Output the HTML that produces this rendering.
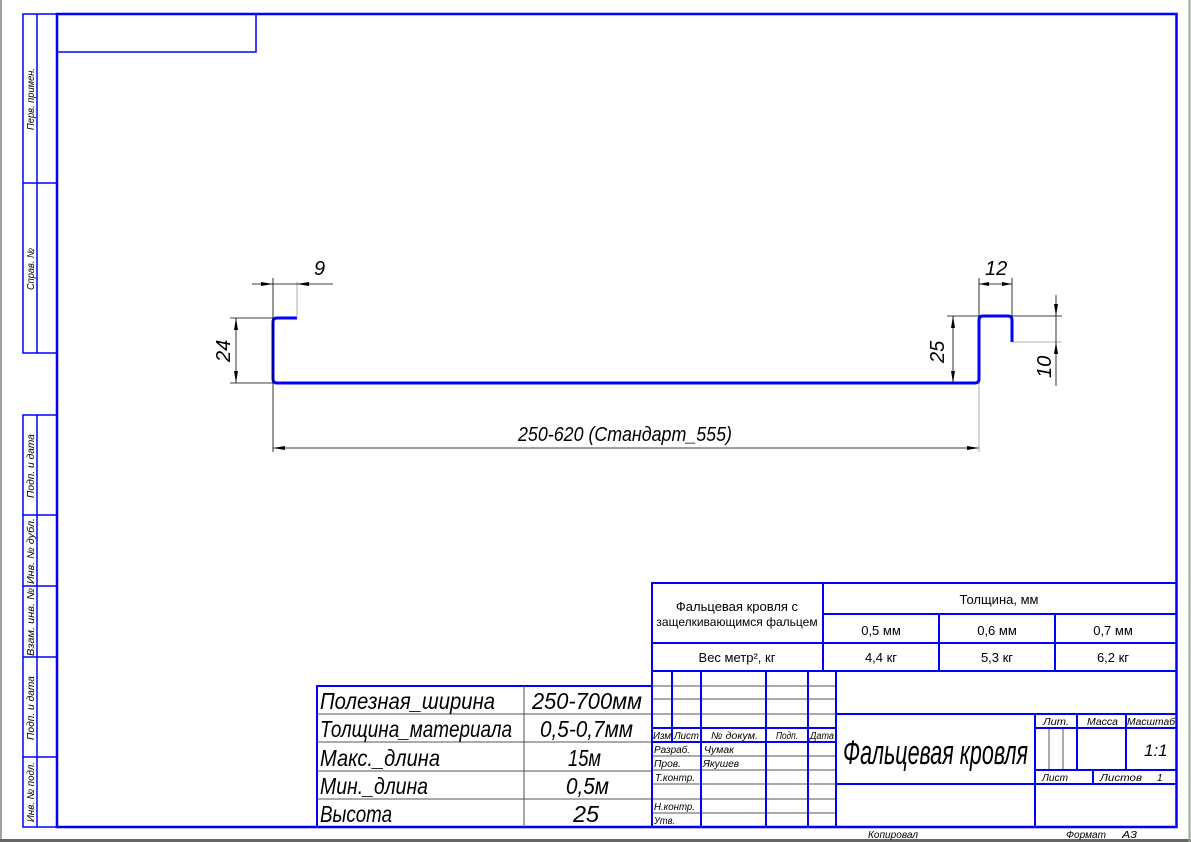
<!DOCTYPE html>
<html><head><meta charset="utf-8"><style>
html,body{margin:0;padding:0;background:#fff;}
svg{display:block;}
text{font-family:"Liberation Sans","DejaVu Sans",sans-serif;}
.it{font-style:italic;font-family:"Liberation Sans Narrow","Liberation Sans",sans-serif;}
</style></head><body>
<svg width="1191" height="842" viewBox="0 0 1191 842" xmlns="http://www.w3.org/2000/svg">
<rect x="0" y="0" width="1191" height="842" fill="#fff"/>
<line x1="1" y1="0" x2="1" y2="842" stroke="#9aa89a" stroke-width="2"/>
<line x1="0" y1="840.5" x2="1191" y2="840.5" stroke="#666" stroke-width="3"/>
<line x1="1189.5" y1="0" x2="1189.5" y2="842" stroke="#9aa89a" stroke-width="2"/>

<g stroke="#0000ff" fill="none">
<rect x="57" y="14" width="1119.5" height="813" stroke-width="2.5"/>
<rect x="57" y="14" width="199" height="38" stroke-width="1.5"/>
<rect x="23" y="14" width="34" height="339" stroke-width="1.5"/>
<line x1="37" y1="14" x2="37" y2="353" stroke-width="1.5"/>
<line x1="23" y1="183" x2="57" y2="183" stroke-width="1.5"/>
<rect x="23" y="415" width="34" height="412" stroke-width="1.5"/>
<line x1="37" y1="415" x2="37" y2="827" stroke-width="1.5"/>
<line x1="23" y1="515" x2="57" y2="515" stroke-width="1.5"/>
<line x1="23" y1="586" x2="57" y2="586" stroke-width="1.5"/>
<line x1="23" y1="657" x2="57" y2="657" stroke-width="1.5"/>
<line x1="23" y1="757" x2="57" y2="757" stroke-width="1.5"/>
<rect x="317" y="686" width="335" height="141" stroke-width="2"/>
</g>
<g stroke="#555" stroke-width="1">
<line x1="524" y1="686" x2="524" y2="827"/>
<line x1="317" y1="714" x2="652" y2="714"/>
<line x1="317" y1="742" x2="652" y2="742"/>
<line x1="317" y1="771" x2="652" y2="771"/>
<line x1="317" y1="799" x2="652" y2="799"/>
<line x1="652" y1="686" x2="836" y2="686"/>
<line x1="652" y1="699" x2="836" y2="699"/>
<line x1="652" y1="714" x2="836" y2="714"/>
<line x1="652" y1="756" x2="836" y2="756"/>
<line x1="652" y1="770" x2="836" y2="770"/>
<line x1="652" y1="784" x2="836" y2="784"/>
<line x1="652" y1="799" x2="836" y2="799"/>
<line x1="652" y1="813" x2="836" y2="813"/>
<line x1="1049" y1="728" x2="1049" y2="770"/>
<line x1="1063" y1="728" x2="1063" y2="770"/>
</g>
<g stroke="#0000ff" stroke-width="2" fill="none">
<rect x="652" y="583" width="524.5" height="244"/>
<line x1="823" y1="583" x2="823" y2="671"/>
<line x1="823" y1="614" x2="1176" y2="614"/>
<line x1="939" y1="614" x2="939" y2="671"/>
<line x1="1055" y1="614" x2="1055" y2="671"/>
<line x1="652" y1="643" x2="1176" y2="643"/>
<line x1="652" y1="671" x2="1176" y2="671"/>
<line x1="672" y1="671" x2="672" y2="742"/>
<line x1="701" y1="671" x2="701" y2="827"/>
<line x1="766" y1="671" x2="766" y2="827"/>
<line x1="808" y1="671" x2="808" y2="827"/>
<line x1="836" y1="671" x2="836" y2="827"/>
<line x1="652" y1="728" x2="836" y2="728"/>
<line x1="652" y1="742" x2="836" y2="742"/>
<line x1="836" y1="714" x2="1176" y2="714"/>
<line x1="836" y1="784" x2="1176" y2="784"/>
<line x1="1035" y1="714" x2="1035" y2="827"/>
<line x1="1035" y1="728" x2="1176" y2="728"/>
<line x1="1035" y1="770" x2="1176" y2="770"/>
<line x1="1077" y1="714" x2="1077" y2="770"/>
<line x1="1126" y1="714" x2="1126" y2="770"/>
<line x1="1093" y1="770" x2="1093" y2="784"/>
</g>

<path d="M297 318 H277 Q273 318 273 322 V379 Q273 383 277 383 H975 Q979 383 979 379 V320 Q979 316 983 316 H1008 Q1012 316 1012 320 V342" stroke="#0000ff" stroke-width="3" fill="none"/>

<g stroke="#000" stroke-width="0.8" fill="none">
<line x1="273" y1="278" x2="273" y2="452"/>
<line x1="297" y1="282" x2="297" y2="318" stroke="#999"/>
<line x1="252" y1="284" x2="333" y2="284"/>
<line x1="230" y1="318" x2="273" y2="318"/>
<line x1="230" y1="383" x2="273" y2="383"/>
<line x1="236" y1="318" x2="236" y2="383"/>
<line x1="273" y1="448" x2="979" y2="448"/>
<line x1="979" y1="383" x2="979" y2="452" stroke="#999"/>
<line x1="979" y1="278" x2="979" y2="316"/>
<line x1="1012" y1="278" x2="1012" y2="316"/>
<line x1="979" y1="284" x2="1012" y2="284"/>
<line x1="947" y1="316" x2="979" y2="316"/>
<line x1="953" y1="316" x2="953" y2="383"/>
<line x1="1012" y1="316" x2="1062" y2="316"/>
<line x1="1012" y1="342" x2="1062" y2="342" stroke="#999"/>
<line x1="1056" y1="295" x2="1056" y2="386"/>
</g>
<g fill="#000">
<path d="M273 284 l-12 -2 v4z"/><path d="M297 284 l12 -2 v4z"/>
<path d="M236 318 l-2 12 h4z"/><path d="M236 383 l-2 -12 h4z"/>
<path d="M273 448 l12 -2 v4z"/><path d="M979 448 l-12 -2 v4z"/>
<path d="M979 284 l10 -2 v4z"/><path d="M1012 284 l-10 -2 v4z"/>
<path d="M953 316 l-2 12 h4z"/><path d="M953 383 l-2 -12 h4z"/>
<path d="M1056 316 l-2 -12 h4z"/><path d="M1056 342 l-2 12 h4z"/>
</g>
<g class="it" font-size="20" fill="#000">
<text x="314" y="275">9</text>
<text x="985" y="275">12</text>
<text x="518" y="441" textLength="214" lengthAdjust="spacingAndGlyphs">250-620 (Стандарт_555)</text>
<text transform="translate(230,362) rotate(-90)">24</text>
<text transform="translate(944,363) rotate(-90)">25</text>
<text transform="translate(1051,378) rotate(-90)">10</text>
</g>

<g class="it" font-size="10" fill="#000">
<text transform="translate(34,130) rotate(-90)" textLength="62" lengthAdjust="spacingAndGlyphs">Перв. примен.</text>
<text transform="translate(34,290) rotate(-90)" textLength="42" lengthAdjust="spacingAndGlyphs">Справ. №</text>
<text transform="translate(34,498) rotate(-90)" textLength="64" lengthAdjust="spacingAndGlyphs">Подп. и дата</text>
<text transform="translate(34,584) rotate(-90)" textLength="66" lengthAdjust="spacingAndGlyphs">Инв. № дубл.</text>
<text transform="translate(34,656) rotate(-90)" textLength="68" lengthAdjust="spacingAndGlyphs">Взам. инв. №</text>
<text transform="translate(34,740) rotate(-90)" textLength="64" lengthAdjust="spacingAndGlyphs">Подп. и дата</text>
<text transform="translate(34,822) rotate(-90)" textLength="60" lengthAdjust="spacingAndGlyphs">Инв. № подл.</text>
</g>

<g class="it" font-size="23" fill="#000">
<text x="320" y="709" textLength="175" lengthAdjust="spacingAndGlyphs">Полезная_ширина</text>
<text x="320" y="737" textLength="192" lengthAdjust="spacingAndGlyphs">Толщина_материала</text>
<text x="320" y="766" textLength="120" lengthAdjust="spacingAndGlyphs">Макс._длина</text>
<text x="320" y="794" textLength="108" lengthAdjust="spacingAndGlyphs">Мин._длина</text>
<text x="320" y="822" textLength="72" lengthAdjust="spacingAndGlyphs">Высота</text>
<text x="532" y="709" textLength="110" lengthAdjust="spacingAndGlyphs">250-700мм</text>
<text x="540" y="737" textLength="93" lengthAdjust="spacingAndGlyphs">0,5-0,7мм</text>
<text x="568" y="766" textLength="33" lengthAdjust="spacingAndGlyphs">15м</text>
<text x="566" y="794" textLength="43" lengthAdjust="spacingAndGlyphs">0,5м</text>
<text x="573" y="822" textLength="26" lengthAdjust="spacingAndGlyphs">25</text>
</g>

<g font-size="13" fill="#000" text-anchor="middle">
<text x="737" y="611">Фальцевая кровля с</text>
<text x="737" y="626" font-size="12">защелкивающимся фальцем</text>
<text x="999" y="604">Толщина, мм</text>
<text x="881" y="635">0,5 мм</text>
<text x="997" y="635">0,6 мм</text>
<text x="1113" y="635">0,7 мм</text>
<text x="737" y="662">Вес  метр², кг</text>
<text x="881" y="662">4,4 кг</text>
<text x="997" y="662">5,3 кг</text>
<text x="1113" y="662">6,2 кг</text>
</g>

<g class="it" font-size="10" fill="#000">
<text x="653" y="739" textLength="18" lengthAdjust="spacingAndGlyphs">Изм</text>
<text x="674" y="739" textLength="25" lengthAdjust="spacingAndGlyphs">Лист</text>
<text x="711" y="739" textLength="47" lengthAdjust="spacingAndGlyphs">№ докум.</text>
<text x="776" y="739" textLength="22" lengthAdjust="spacingAndGlyphs">Подп.</text>
<text x="810" y="739" textLength="24" lengthAdjust="spacingAndGlyphs">Дата</text>
<text x="654" y="753" textLength="36" lengthAdjust="spacingAndGlyphs">Разраб.</text>
<text x="704" y="753" textLength="30" lengthAdjust="spacingAndGlyphs">Чумак</text>
<text x="654" y="767" textLength="27" lengthAdjust="spacingAndGlyphs">Пров.</text>
<text x="703" y="767" textLength="36" lengthAdjust="spacingAndGlyphs">Якушев</text>
<text x="655" y="781" textLength="40" lengthAdjust="spacingAndGlyphs">Т.контр.</text>
<text x="654" y="810" textLength="41" lengthAdjust="spacingAndGlyphs">Н.контр.</text>
<text x="654" y="824" textLength="21" lengthAdjust="spacingAndGlyphs">Утв.</text>
<text x="1043" y="725" textLength="26" lengthAdjust="spacingAndGlyphs">Лит.</text>
<text x="1087" y="725" textLength="31" lengthAdjust="spacingAndGlyphs">Масса</text>
<text x="1127" y="725" textLength="48" lengthAdjust="spacingAndGlyphs">Масштаб</text>
<text x="1042" y="781" textLength="26" lengthAdjust="spacingAndGlyphs">Лист</text>
<text x="1100" y="781" textLength="42" lengthAdjust="spacingAndGlyphs">Листов</text>
<text x="1157" y="781">1</text>
<text x="868" y="838" textLength="50" lengthAdjust="spacingAndGlyphs">Копировал</text>
<text x="1066" y="838" textLength="40" lengthAdjust="spacingAndGlyphs">Формат</text>
<text x="1122" y="838" textLength="15" lengthAdjust="spacingAndGlyphs">А3</text>
</g>
<g class="it" fill="#000">
<text x="843" y="764" font-size="34" textLength="185" lengthAdjust="spacingAndGlyphs">Фальцевая кровля</text>
<text x="1144" y="756" font-size="17">1:1</text>
</g>
</svg>
</body></html>
